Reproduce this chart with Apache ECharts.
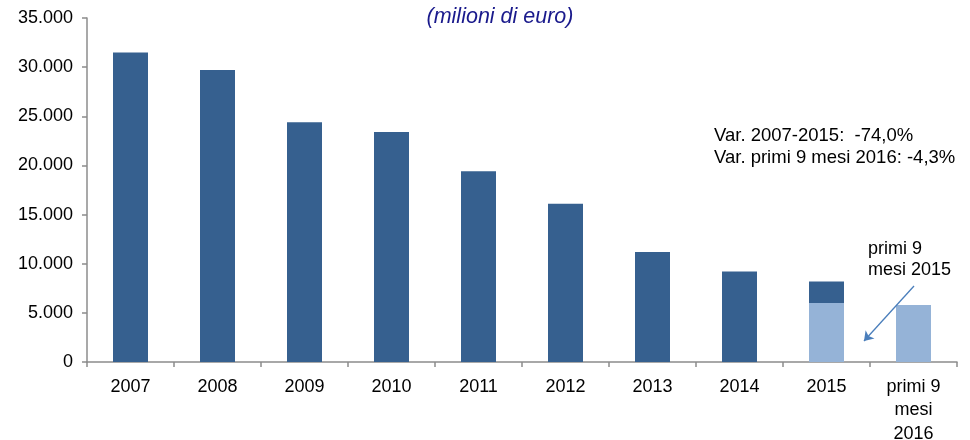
<!DOCTYPE html>
<html>
<head>
<meta charset="utf-8">
<script src="https://cdn.jsdelivr.net/npm/echarts@6/dist/echarts.min.js"></script>
<style>
  html, body { margin: 0; padding: 0; background: #fff; }
  #chart { width: 970px; height: 440px; }
</style>
</head>
<body>
<div id="chart"></div>
<script>
const categories = ['2007', '2008', '2009', '2010', '2011', '2012', '2013', '2014', '2015', 'primi 9\nmesi\n2016']
// part of each bar covering the first 9 months (light blue)
const firstNineMonths = [null, null, null, null, null, null, null, null, 6000, 5800]
// rest of the year (dark blue)
const restOfYear = [31500, 29700, 24400, 23400, 19400, 16100, 11200, 9200, 2200, null]
const yTicks = [0, 5000, 10000, 15000, 20000, 25000, 30000, 35000]

const FONT = 'Liberation Sans, Arial, sans-serif'
const DARK = '#36608F'
const LIGHT = '#95B3D7'

const formatThousands = (v) => String(v).replace(/\B(?=(\d{3})+(?!\d))/g, '.')

const chart = echarts.init(document.getElementById('chart'))

chart.setOption({
  animation: false,
  textStyle: { fontFamily: FONT },
  title: {
    text: '(milioni di euro)',
    left: 495,
    top: 1,
    textAlign: 'center',
    textStyle: {
      fontFamily: FONT,
      fontStyle: 'italic',
      fontWeight: 'normal',
      fontSize: 21.5,
      color: '#1A1A8C'
    }
  },
  grid: {
    left: 87,
    right: 13,
    top: 18,
    bottom: 78,
    outerBoundsMode: 'none'
  },
  xAxis: {
    type: 'category',
    data: categories,
    axisLine: { lineStyle: { color: '#8C8C8C', width: 1.5 } },
    axisTick: { show: true, length: 5, lineStyle: { color: '#8C8C8C', width: 1.5 } },
    axisLabel: {
      color: '#000',
      fontSize: 18,
      margin: 13,
      lineHeight: 23.5,
      fontFamily: FONT
    }
  },
  yAxis: {
    type: 'value',
    min: yTicks[0],
    max: yTicks[yTicks.length - 1],
    interval: 5000,
    splitLine: { show: false },
    axisLine: { show: true, lineStyle: { color: '#8C8C8C', width: 1.5 } },
    axisTick: { show: true, length: 5, lineStyle: { color: '#8C8C8C', width: 1.5 } },
    axisLabel: {
      color: '#000',
      fontSize: 18,
      margin: 14,
      fontFamily: FONT,
      formatter: formatThousands
    }
  },
  series: [
    {
      name: 'primi 9 mesi',
      type: 'bar',
      stack: 'tot',
      barWidth: 35,
      data: firstNineMonths,
      itemStyle: { color: LIGHT }
    },
    {
      name: 'anno',
      type: 'bar',
      stack: 'tot',
      barWidth: 35,
      data: restOfYear,
      itemStyle: { color: DARK },
      markLine: {
        silent: true,
        symbol: ['none', 'arrow'],
        symbolSize: 9,
        label: { show: false },
        lineStyle: { color: '#4A7EBB', width: 1.3, type: 'solid' },
        data: [[{ x: 914, y: 286 }, { x: 864, y: 341 }]]
      }
    }
  ],
  graphic: [
    {
      type: 'text',
      left: 714,
      top: 125,
      style: {
        text: 'Var. 2007-2015:  -74,0%\nVar. primi 9 mesi 2016: -4,3%',
        fontFamily: FONT,
        fontSize: 18.5,
        lineHeight: 22,
        fill: '#000'
      }
    },
    {
      type: 'text',
      left: 868,
      top: 239,
      style: {
        text: 'primi 9\nmesi 2015',
        align: 'center',
        fontFamily: FONT,
        fontSize: 18,
        lineHeight: 21,
        fill: '#000'
      }
    }
  ]
})
</script>
</body>
</html>
